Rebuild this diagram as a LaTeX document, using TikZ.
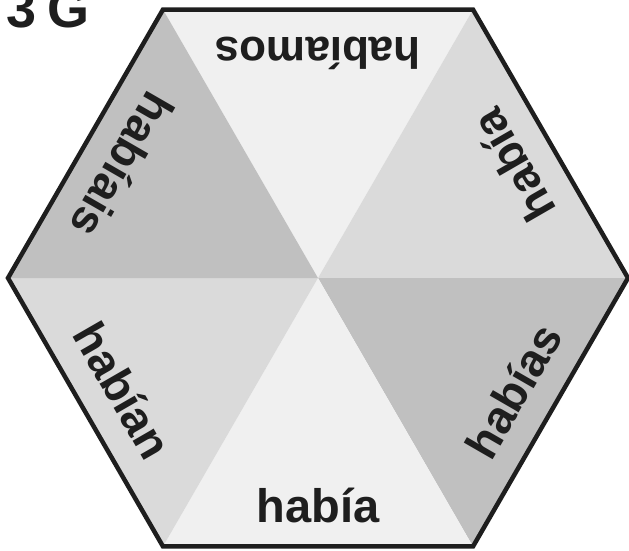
\documentclass[tikz,border=0pt]{standalone}
\usepackage{fontspec}
\setmainfont{Liberation Sans}

\definecolor{ink}{HTML}{1E1E1E}
\definecolor{paleGray}{HTML}{F0F0F0}
\definecolor{lightGray}{HTML}{DADADA}
\definecolor{midGray}{HTML}{C0C0C0}

\begin{document}
\begin{tikzpicture}[x=1pt, y=1pt,
  wedge text/.style={font=\fontsize{46}{46}\selectfont\bfseries, text=ink, anchor=base, inner sep=0pt}]

  \useasboundingbox (-318,-272) rectangle (311,278);

  % -- the six triangles --
  \fill[paleGray]  (0,0) -- (60:310)  -- (120:310) -- cycle;
  \fill[lightGray] (0,0) -- (0:310)   -- (60:310)  -- cycle;
  \fill[midGray]   (0,0) -- (-60:310) -- (0:310)   -- cycle;
  \fill[paleGray]  (0,0) -- (240:310) -- (300:310) -- cycle;
  \fill[lightGray] (0,0) -- (180:310) -- (240:310) -- cycle;
  \fill[midGray]   (0,0) -- (120:310) -- (180:310) -- cycle;

  % -- outline of the hexagon --
  \draw[ink, line width=4.5pt] (0:310) -- (60:310) -- (120:310) -- (180:310)
    -- (240:310) -- (300:310) -- cycle;

  % -- words, feet towards the rim --
  \node[wedge text, rotate=0, font=\fontsize{47}{47}\selectfont\bfseries] (habia) at (-90:244) {había};
  \node[wedge text, rotate=60]  (habias)   at (-30:242) {habías};
  \node[wedge text, rotate=120] (habiaB)   at (30:242)  {había};
  \node[wedge text, rotate=180, font=\fontsize{44}{44}\selectfont\bfseries] (habiamos) at (90:241) {habíamos};
  \node[wedge text, rotate=240] (habiais)  at (150:242) {habíais};
  \node[wedge text, rotate=300] (habian)   at (210:242) {habían};

  % Label
  \node[anchor=base west, inner sep=0pt, text=ink, font=\fontsize{54}{54}\selectfont\bfseries]
    (title) at (-312,251) {3\hspace{11pt}G};

\end{tikzpicture}
\end{document}
